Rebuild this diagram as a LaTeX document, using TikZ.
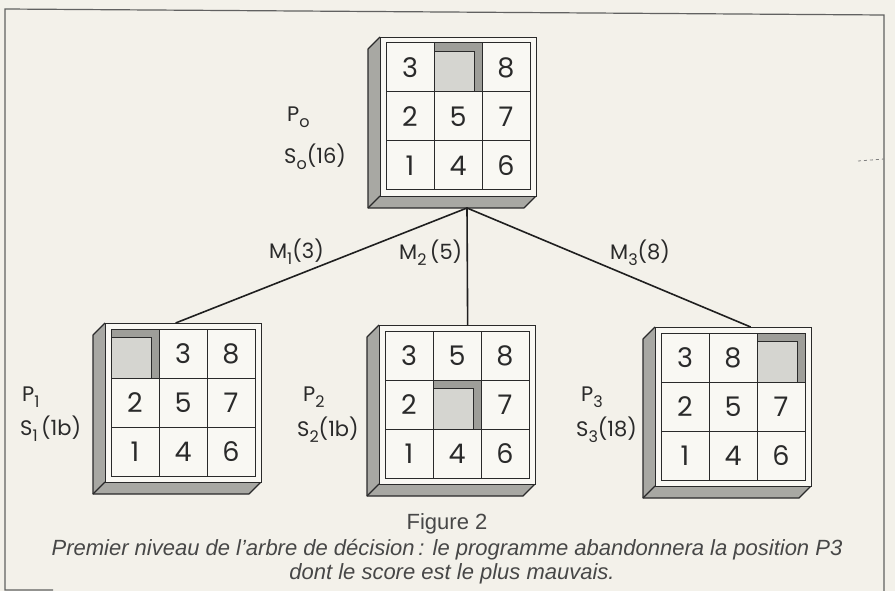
\documentclass[tikz,border=0pt]{standalone}
\usepackage{fontspec}
\setmainfont{Liberation Sans}
\newfontfamily\hand{Poppins}
\usetikzlibrary{calc}
\definecolor{bgcol}{HTML}{F3F1EA}
\definecolor{facecol}{HTML}{F9F8F3}
\definecolor{bevelcol}{HTML}{A8A8A3}
\definecolor{holecol}{HTML}{D5D5D0}
\definecolor{holedark}{HTML}{9E9E99}
\definecolor{inkcol}{HTML}{2A2A2A}
\tikzset{
  front/.style={draw=inkcol, line width=1.3pt, fill=facecol, rectangle, minimum width=156pt, minimum height=159pt, inner sep=0pt},
  bevel/.style={fill=bevelcol},
  edge/.style={draw=inkcol, line width=1.2pt, line join=round},
  gridline/.style={draw=inkcol, line width=1.0pt},
  digit/.style={font=\hand\fontsize{27}{27}\selectfont, text=inkcol, inner sep=0pt},
  lab/.style={font=\hand\fontsize{21}{21}\selectfont, text=inkcol, inner sep=0pt, anchor=west},
  branch/.style={draw=black!88, line width=1.6pt},
  frameline/.style={draw=black!62, line width=1.2pt},
  captext/.style={text=black!72, inner sep=0pt}
}
\newcommand\sub[1]{\raisebox{-0.3em}{\fontsize{16}{16}\selectfont #1}}
\newcommand\puzzle[4]{%
  \begin{scope}[shift={(#2,#3)}]
    \fill[bevel] (0,0) -- (-12,12) -- (-12,171) -- (0,159) -- cycle;
    \fill[bevel] (0,159) -- (-12,171) -- (144,171) -- (156,159) -- cycle;
    \draw[edge] (0,0) -- (-12,12) -- (-12,171) -- (144,171) -- (156,159);
    \draw[edge] (0,159) -- (-12,171);
    \node[front, anchor=north west] (#1) at (0,0) {};
    \foreach \v [count=\k from 0] in {#4} {
      \pgfmathtruncatemacro\col{mod(\k,3)}
      \pgfmathtruncatemacro\row{int(\k/3)}
      \pgfmathsetmacro\cx{6+48*\col}
      \pgfmathsetmacro\cy{6+49*\row}
      \ifnum\v=0
        \fill[holedark] (\cx,\cy) rectangle ({\cx+48},{\cy+49});
        \fill[holecol] (\cx,{\cy+8}) rectangle ({\cx+40},{\cy+49});
        \draw[inkcol, line width=0.8pt] (\cx,{\cy+8}) -- ({\cx+40},{\cy+8}) -- ({\cx+40},{\cy+49});
      \else
        \node[digit] at ({\cx+24},{\cy+25}) {\v};
      \fi
    }
    \draw[gridline] (6,6) rectangle (150,153);
    \draw[gridline] (54,6) -- (54,153) (102,6) -- (102,153) (6,55) -- (150,55) (6,104) -- (150,104);
  \end{scope}}
\begin{document}
\begin{tikzpicture}[x=1pt,y=-1pt]
  \useasboundingbox (0,0) rectangle (895,591);
  \fill[bgcol] (0,0) rectangle (895,591);
  % frame
  \draw[frameline] (53,590) -- (5,590) -- (5,9) -- (884,15) -- (884,591);
  \draw[black!50, dashed, line width=0.8pt] (858,161) -- (884,159);
  % puzzles
  \puzzle{P0}{380}{37}{3,0,8,2,5,7,1,4,6}
  \puzzle{P1}{105}{323}{0,3,8,2,5,7,1,4,6}
  \puzzle{P2}{379}{325}{3,5,8,2,0,7,1,4,6}
  \puzzle{P3}{655}{327}{3,8,0,2,5,7,1,4,6}
  % connectors
  \coordinate (apex) at (467,208);
  \coordinate (t1) at ($(P1.north)+(-8,0)$);
  \coordinate (t2) at ($(P2.north)+(10,0)$);
  \coordinate (t3) at ($(P3.north)+(17,0)$);
  \draw[branch] (t1) -- (apex) -- (t3);
  \draw[branch] (apex) -- (t2);
  % branch labels
  \node[lab, anchor=east] (m1) at (324,252) {M\sub{1}(3)};
  \node[lab] (m2) at (399,253) {M\sub{2}\,(5)};
  \node[lab] (m3) at (610,253) {M\sub{3}(8)};
  % position labels
  \node[lab] (p0) at (287,117) {P\sub{o}};
  \node[lab] (s0) at (284,157) {S\sub{o}(16)};
  \node[lab] (p1) at (22,397) {P\sub{1}};
  \node[lab] (s1) at (20,429) {S\sub{1}\,(1b)};
  \node[lab] (p2) at (303,397) {P\sub{2}};
  \node[lab] (s2) at (297,430) {S\sub{2}(1b)};
  \node[lab] (p3) at (581,397) {P\sub{3}};
  \node[lab] (s3) at (576,430) {S\sub{3}(18)};
  % caption
  \node[captext, font=\fontsize{22}{22}\selectfont] (fig) at (447,524) {Figure 2};
  \node[captext, font=\itshape\fontsize{22}{22}\selectfont] (c1) at (447,550) {Premier niveau de l'arbre de décision\,: le programme abandonnera la position P3};
  \node[captext, font=\itshape\fontsize{22}{22}\selectfont] (c2) at (452,574) {dont le score est le plus mauvais.};
\end{tikzpicture}
\end{document}
